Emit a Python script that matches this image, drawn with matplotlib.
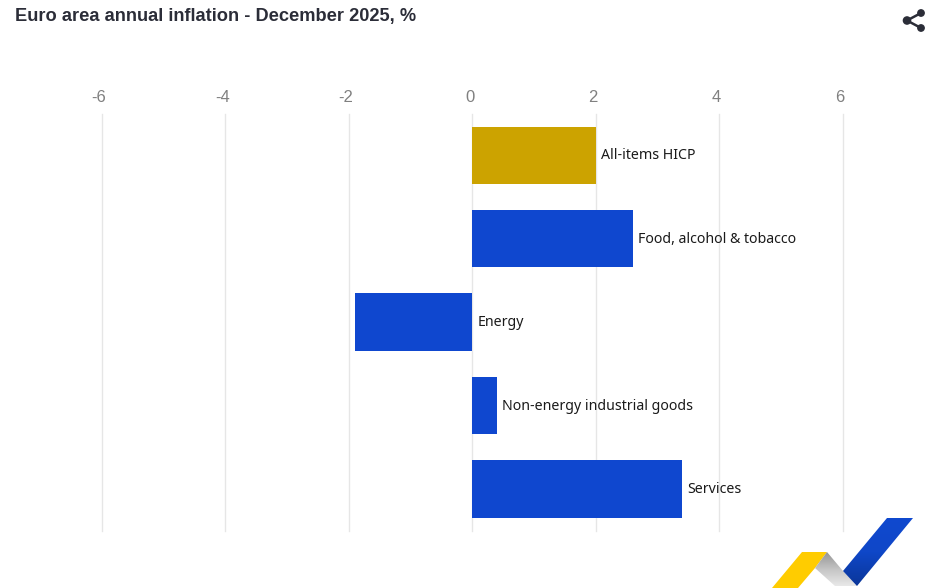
import numpy as np
import matplotlib
matplotlib.use("Agg")
import matplotlib.pyplot as plt
from matplotlib.colors import LinearSegmentedColormap
from matplotlib.patches import Polygon, Circle
from matplotlib.transforms import ScaledTranslation

# Chart data
categories = ["All-items HICP", "Food, alcohol & tobacco", "Energy",
              "Non-energy industrial goods", "Services"]
values = [2.0, 2.6, -1.9, 0.4, 3.4]
bar_colors = ["#CCA300", "#0F47CF", "#0F47CF", "#0F47CF", "#0F47CF"]
x_ticks = [-6, -4, -2, 0, 2, 4, 6]

W, H = 942, 588
fig = plt.figure(figsize=(W / 100, H / 100), dpi=100, facecolor="white")

# axes placed in pixels, top edge y=114, bottom y=531
left, right, top, bottom = 101.5, 842.5, 113.6, 530.6
ax = fig.add_axes([left / W, 1 - bottom / H, (right - left) / W, (bottom - top) / H])

ypos = np.arange(len(categories))
ax.barh(ypos, values, height=0.69, color=bar_colors, zorder=3)
ax.set_xlim(-6, 6)
ax.set_ylim(len(categories) - 0.5, -0.5)

ax.set_xticks(x_ticks)
ax.set_xticklabels([str(t) for t in x_ticks], fontsize=12, color="#808080",
                   family="Liberation Sans")
ax.xaxis.tick_top()
ax.tick_params(axis="x", length=0, pad=6)
ax.set_yticks([])
ax.grid(axis="x", color="#e6e6e6", linewidth=1, zorder=0, clip_on=False)
for s in ax.spines.values():
    s.set_visible(False)

# tick labels sit a little left of their gridlines
shift = ScaledTranslation(-2.5 / 100, 0, fig.dpi_scale_trans)
for lab in ax.get_xticklabels():
    lab.set_transform(lab.get_transform() + shift)

# category labels next to the bars
for i, (v, name) in enumerate(zip(values, categories)):
    ax.annotate(name, xy=(max(v, 0), i), xytext=(5.5, -0.5), textcoords="offset pixels",
                va="center", ha="left", fontsize=10.2, color="#1a1a1a",
                family="Noto Sans", zorder=4)

fig.text(15 / W, 1 - 16 / H, "Euro area annual inflation - December 2025, %",
         fontsize=13.15, fontweight="bold", color="#2b2d38",
         family="Liberation Sans", va="center", ha="left")

# overlay in pixel coords for share icon and logo
ov = fig.add_axes([0, 0, 1, 1], facecolor="none")
ov.axis("off")

icon = "#2b2d38"
hub, n1, n2 = (907, 20.5), (921, 13), (921, 28)
ov.plot([n1[0], hub[0], n2[0]], [n1[1], hub[1], n2[1]], color=icon, lw=1.8)
for c, r in ((hub, 4.3), (n1, 3.9), (n2, 3.9)):
    ov.add_patch(Circle(c, r, color=icon, lw=0))

ov.add_patch(Polygon([(772, 588), (802, 552), (827, 552), (815, 568), (798, 588)],
                     closed=True, color="#FFCC00", lw=0))


def gradient_shape(points, extent, colors, z):
    # polygon filled by a vertical gradient
    shape = Polygon(points, closed=True, facecolor="none", lw=0)
    ov.add_patch(shape)
    cmap = LinearSegmentedColormap.from_list("logo", colors)
    grad = np.linspace(0, 1, 64).reshape(-1, 1)
    im = ov.imshow(grad, extent=extent, cmap=cmap, aspect="auto", zorder=z)
    im.set_clip_path(shape)


gradient_shape([(827, 552), (843, 571), (857, 586), (835, 586), (815, 568)],
               (812, 860, 588, 550), ["#8f8f8f", "#c4c4c4", "#ececec"], 2)
gradient_shape([(887, 518), (913, 518), (857, 586), (843, 571)],
               (840, 916, 588, 516), ["#1049cf", "#0F47C8", "#0a3596"], 3)

ov.set_xlim(0, W)
ov.set_ylim(H, 0)

fig.savefig("out.png", dpi=100)
